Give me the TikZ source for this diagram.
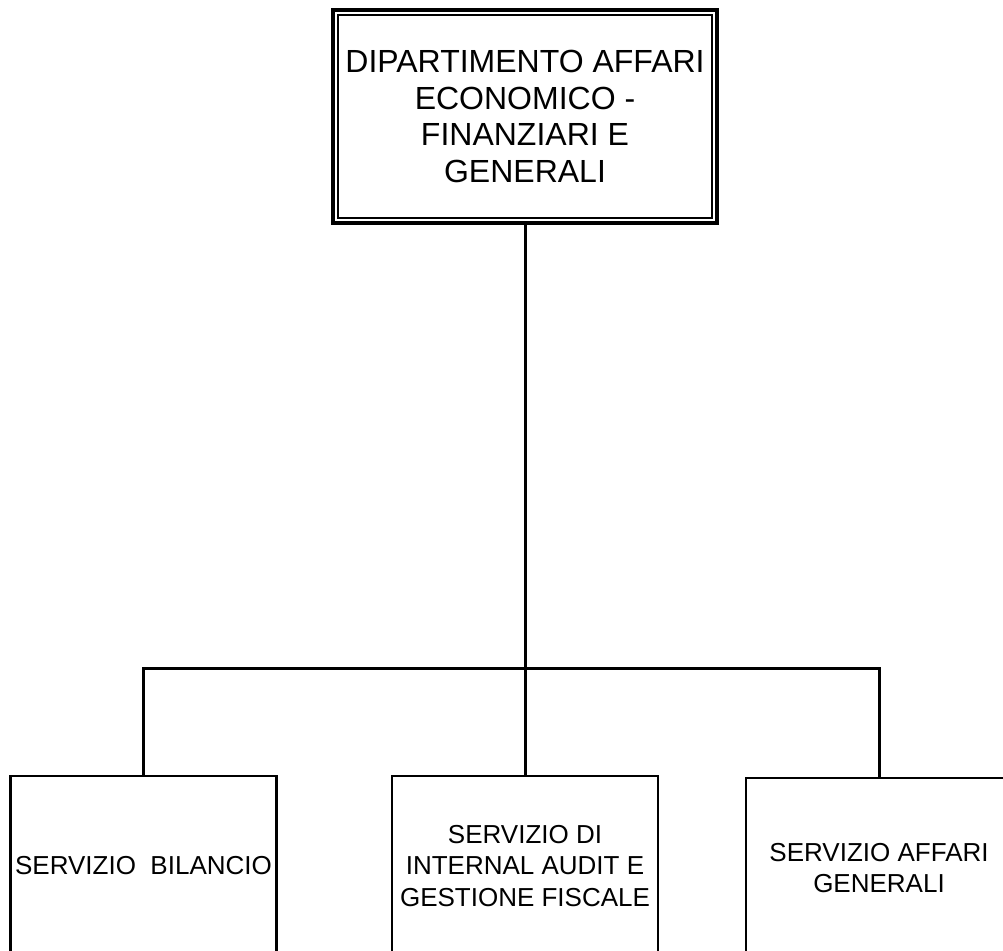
\documentclass[tikz,border=0pt]{standalone}
\usepackage{fontspec}
\setmainfont{Liberation Sans}
\begin{document}
\begin{tikzpicture}[x=1pt,y=-1pt,
  topbox/.style={draw, line width=3.5pt, rectangle, minimum width=384pt, minimum height=213pt, align=center, inner sep=0pt, font=\fontsize{32}{36.5}\selectfont},
  subbox/.style={draw, line width=2.5pt, rectangle, minimum width=266pt, minimum height=180pt, align=center, inner sep=0pt, font=\fontsize{26}{31.5}\selectfont},
  conn/.style={line width=3pt}]
\useasboundingbox (0,0) rectangle (1003,950);
\clip (0,0) rectangle (1003,950);
\node[topbox] (top) at (525,116.5) {DIPARTIMENTO AFFARI\\ECONOMICO -\\FINANZIARI E\\GENERALI};
\draw[line width=2pt] ([xshift=7pt,yshift=-7pt]top.north west) rectangle ([xshift=-7pt,yshift=7pt]top.south east);
\node[subbox] (bil) at (143.5,866) {SERVIZIO\ \ BILANCIO};
\node[subbox] (aud) at (525,866) {SERVIZIO DI\\INTERNAL AUDIT E\\GESTIONE FISCALE};
\node[subbox] (gen) at (879,868) {SERVIZIO AFFARI\\GENERALI};
\coordinate (hub) at (525,668);
\draw[conn] (top.south) -- (hub);
\draw[conn] (bil.north) |- (hub) -| (gen.north);
\draw[conn] (hub) -- (aud.north);
\end{tikzpicture}
\end{document}
